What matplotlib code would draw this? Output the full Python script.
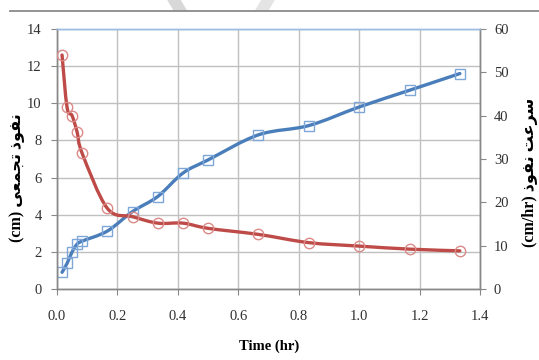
import matplotlib
matplotlib.use("Agg")
import matplotlib.pyplot as plt
from matplotlib.path import Path
from matplotlib.patches import PathPatch, Polygon
from matplotlib.lines import Line2D

# Elapsed time (hr): 1,2,3,4,5,10,15,20,25,30,40,50,60,70,80 minutes
time_hr = [1/60, 2/60, 3/60, 4/60, 5/60, 10/60, 15/60, 20/60, 25/60,
           30/60, 40/60, 50/60, 60/60, 70/60, 80/60]
# Cumulative infiltration (cm), left axis
cum_infiltration = [0.9, 1.38, 2.0, 2.42, 2.58, 3.12, 4.17, 4.98, 6.24,
                    6.95, 8.3, 8.8, 9.8, 10.7, 11.6]
# Infiltration rate (cm/hr), right axis
infiltration_rate = [54.0, 41.9, 40.0, 36.2, 31.3, 18.6, 16.7, 15.2, 15.2,
                     14.0, 12.6, 10.7, 9.9, 9.2, 8.8]

x_ticks = [0.0, 0.2, 0.4, 0.6, 0.8, 1.0, 1.2, 1.4]
left_ticks = [0, 2, 4, 6, 8, 10, 12, 14]
right_ticks = [0, 10, 20, 30, 40, 50, 60]

# Persian labels written with presentation forms in visual (left-to-right) order
left_label = "(cm) " + "\uFE97\uFEA0\uFEE4\uFECC\uFEF0"[::-1] + " " + "\uFEE7\uFED4\uFEEE\uFEAB"[::-1]
right_label = "(cm/hr) " + "\uFEE7\uFED4\uFEEE\uFEAB"[::-1] + " " + "\uFEB3\uFEAE\uFECB\uFE96"[::-1]
x_label = "Time (hr)"

BLUE = "#4A7EBB"
BLUE_MK = "#7EA6D8"
RED = "#BE4B48"
RED_MK = "#DA8A88"
GRID = "#C0C0C0"
AXIS = "#888888"
TXT = "#303030"
serif = ["Liberation Serif", "DejaVu Serif"]
label_fonts = ["Liberation Serif", "DejaVu Sans"]


def smooth_path(x, y, t=1/6):
    """Cubic Bezier path through the points (Catmull-Rom style smoothing)."""
    n = len(x)
    verts = [(x[0], y[0])]
    codes = [Path.MOVETO]
    for i in range(n - 1):
        a = i - 1 if i > 0 else i
        d = i + 2 if i + 2 < n else i + 1
        c1 = (x[i] + (x[i + 1] - x[a]) * t, y[i] + (y[i + 1] - y[a]) * t)
        c2 = (x[i + 1] - (x[d] - x[i]) * t, y[i + 1] - (y[d] - y[i]) * t)
        verts += [c1, c2, (x[i + 1], y[i + 1])]
        codes += [Path.CURVE4] * 3
    return Path(verts, codes)


fig = plt.figure(figsize=(5.39, 3.60), dpi=100)
fig.patch.set_facecolor("white")

# header rule and faint page marks
fig.add_artist(Line2D([10 / 539, 1.0], [1 - 10.5 / 360] * 2, color="#8A8A8A", lw=1.3))
fig.add_artist(Polygon([(168 / 539, 1.0), (180 / 539, 1.0), (186 / 539, 1 - 10 / 360), (174 / 539, 1 - 10 / 360)],
                       closed=True, color="#D8D8D8", zorder=0))
fig.add_artist(Polygon([(262 / 539, 1.0), (274 / 539, 1.0), (268 / 539, 1 - 10 / 360), (256 / 539, 1 - 10 / 360)],
                       closed=True, color="#E4E4E4", zorder=0))

ax = fig.add_axes([57 / 539, 71 / 360, 423 / 539, 260 / 360])
ax2 = ax.twinx()

ax.set_xlim(0, 1.4)
ax.set_ylim(0, 14)
ax2.set_ylim(0, 60)
ax.set_xticks(x_ticks)
ax.set_xticklabels([f"{v:.1f}" for v in x_ticks])
ax.set_yticks(left_ticks)
ax2.set_yticks(right_ticks)

ax.grid(True, color=GRID, lw=1.0)
ax.set_axisbelow(True)

for a in (ax, ax2):
    for side in ("left", "right", "bottom"):
        a.spines[side].set_color(AXIS)
        a.spines[side].set_linewidth(1.0)
    a.spines["top"].set_color("#9DBDE4")
    a.spines["top"].set_linewidth(1.0)

ax.tick_params(axis="x", direction="out", length=4, color=AXIS, pad=11, labelsize=10.5, labelcolor=TXT)
ax.tick_params(axis="y", direction="out", length=4, color=AXIS, pad=7, labelsize=10.5, labelcolor=TXT)
ax2.tick_params(axis="y", direction="out", length=4, color=AXIS, pad=6, labelsize=10.5, labelcolor=TXT)
for lab in ax.get_xticklabels() + ax.get_yticklabels() + ax2.get_yticklabels():
    lab.set_fontfamily(serif)

# cumulative infiltration (left axis)
ax.add_patch(PathPatch(smooth_path(time_hr, cum_infiltration), fill=False,
                       edgecolor=BLUE, lw=2.4, capstyle="round", joinstyle="round", zorder=3))
ax.plot(time_hr, cum_infiltration, ls="none", marker="s", ms=7, mfc="none",
        mec=BLUE_MK, mew=1.0, zorder=4)

# infiltration rate (right axis)
ax2.add_patch(PathPatch(smooth_path(time_hr, infiltration_rate), fill=False,
                        edgecolor=RED, lw=2.4, capstyle="round", joinstyle="round", zorder=3))
ax2.plot(time_hr, infiltration_rate, ls="none", marker="o", ms=7.5, mfc="none",
         mec=RED_MK, mew=1.0, zorder=4)

fig.text(269 / 539, 1 - 346 / 360, x_label, ha="center", va="center",
         fontsize=10.5, fontweight="bold", family=serif, color="black")
fig.text(17 / 539, 1 - 178 / 360, left_label, ha="center", va="center", rotation=90,
         fontsize=11.5, fontweight="bold", family=label_fonts, color="black")
fig.text(530 / 539, 1 - 172 / 360, right_label, ha="center", va="center", rotation=90,
         fontsize=11.5, fontweight="bold", family=label_fonts, color="black")

fig.savefig("out.png", dpi=100, facecolor="white")
